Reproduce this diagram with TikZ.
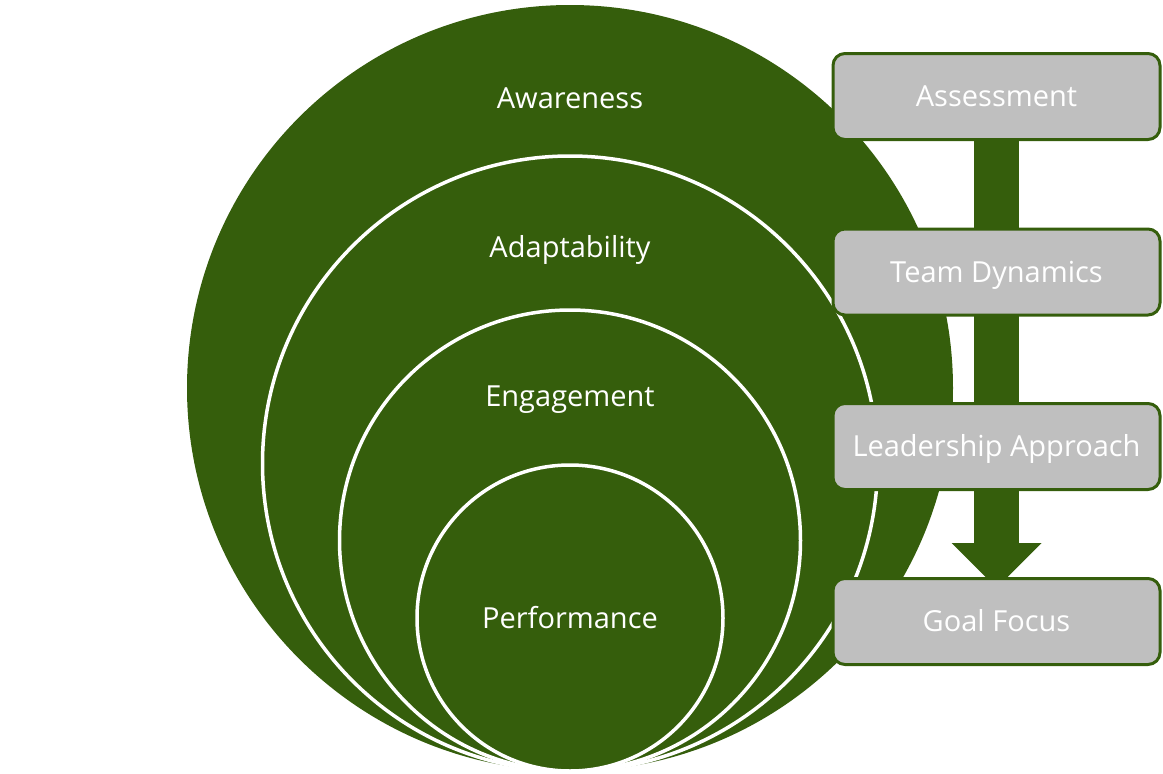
\documentclass[tikz,border=0pt]{standalone}
\usepackage{fontspec}
\setmainfont{Open Sans}
\usetikzlibrary{arrows.meta, backgrounds}
\definecolor{leafgreen}{RGB}{53,94,12}
\definecolor{boxgray}{RGB}{191,191,191}

\begin{document}
\begin{tikzpicture}[x=1pt, y=-1pt]
            \fontsize{29}{35}\selectfont
            \tikzset{
                ring/.style={fill=leafgreen, draw=white, line width=3.5pt},
                ringtext/.style={text=white, inner sep=0pt, text height=20.5pt, text depth=0pt},
                stage/.style={fill=boxgray, draw=leafgreen, line width=3pt, rounded corners=12pt,
                    minimum width=327pt, minimum height=86pt, text=white, inner sep=0pt,
                    text height=20.5pt, text depth=0pt}
            }
            \useasboundingbox (0,0) rectangle (1163,774);

            % steps on the right
            \node[stage] (assess) at (996.5,96.5) {Assessment};
            \node[stage] (team) at (996.5,272) {Team Dynamics};
            \node[stage] (lead) at (996.5,446.5) {Leadership Approach};
            \node[stage] (goal) at (996.5,621.5) {Goal Focus};

            \begin{scope}[on background layer]
                % nested circles
                \fill[leafgreen] (570,388) circle (383pt);
                \draw[ring] (570,463.5) circle (307.5pt);
                \draw[ring] (570,540.5) circle (230.5pt);
                \draw[ring] (570,618) circle (153pt);
                \draw[leafgreen, line width=45pt, -{Triangle[length=45pt, width=90pt, line width=0pt]}]
                    (assess.center) -- ([yshift=-11pt]goal.north);
            \end{scope}

            \node[ringtext] (aware) at (570,98) {Awareness};
            \node[ringtext] (adapt) at (570,247.5) {Adaptability};
            \node[ringtext] (engage) at (570,396.5) {Engagement};
            \node[ringtext] (perf) at (570,618) {Performance};
\end{tikzpicture}
\end{document}
